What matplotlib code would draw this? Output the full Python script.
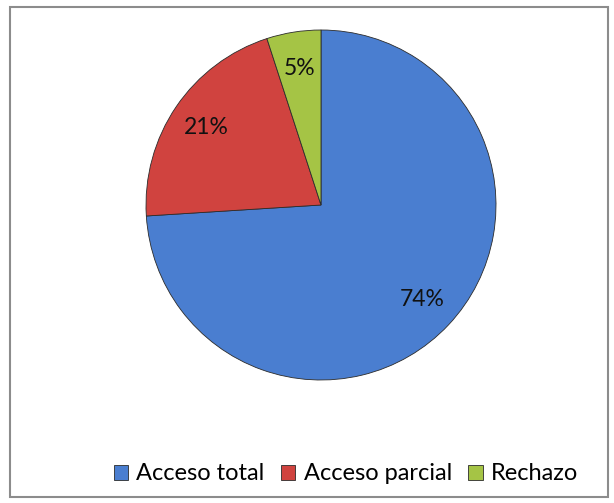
import matplotlib.pyplot as plt
from matplotlib.patches import Rectangle

labels = ["Acceso total", "Acceso parcial", "Rechazo"]
values = [74, 21, 5]
colors = ["#4a7ed0", "#d0433f", "#a5c445"]

plt.rcParams["font.family"] = ["Lato", "DejaVu Sans"]

fig = plt.figure(figsize=(6.14, 5.03), dpi=100)

# outer gray frame
fig.patches.append(Rectangle((10 / 614, 1 - 497 / 503), 598 / 614, 490 / 503,
                             transform=fig.transFigure, fill=False,
                             edgecolor="#8c8c8c", linewidth=1.5))

ax = fig.add_axes([146 / 614, 123 / 503, 350 / 614, 350 / 503])
wedges, texts, autotexts = ax.pie(
    values, colors=colors, startangle=90, counterclock=False,
    autopct=lambda p: f"{p:.0f}%", pctdistance=0.79, radius=1,
    wedgeprops=dict(edgecolor="#2b2b2b", linewidth=0.6),
    textprops=dict(fontsize=16.5, color="#111111"))
ax.set_xlim(-1, 1)
ax.set_ylim(-1, 1)
ax.set_aspect("equal")
ax.axis("off")

fig.legend(wedges, labels, loc="center", bbox_to_anchor=(346 / 614, 1 - 474 / 503),
           ncol=3, frameon=False, fontsize=17, handlelength=0.6, handleheight=0.6,
           handletextpad=0.35, columnspacing=0.7, borderpad=0, borderaxespad=0)

fig.savefig("out.png", dpi=100)
